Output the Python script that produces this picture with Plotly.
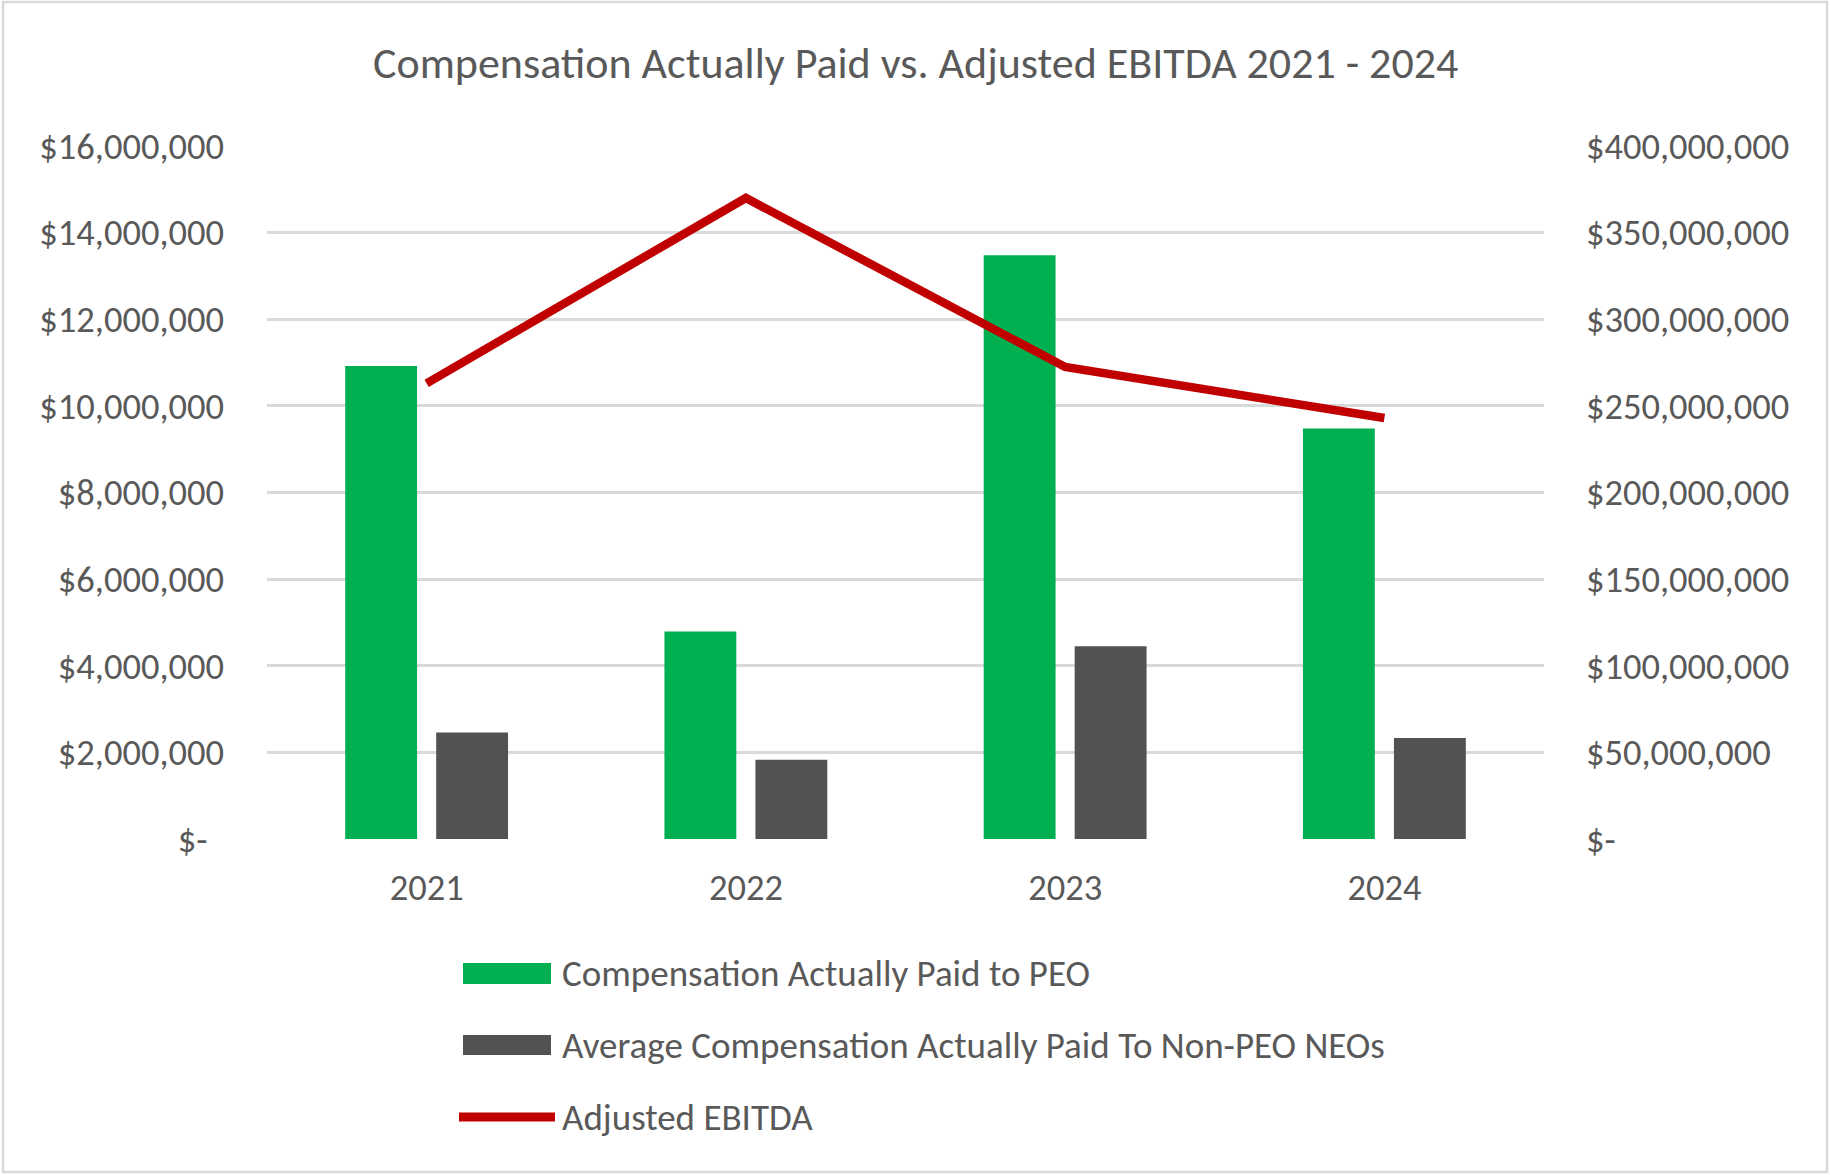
import plotly.graph_objects as go

# ---- data ----
years = ["2021", "2022", "2023", "2024"]
cap_peo = [10.92e6, 4.79e6, 13.48e6, 9.48e6]
cap_non_peo_avg = [2.46e6, 1.83e6, 4.45e6, 2.33e6]
adjusted_ebitda = [263e6, 370e6, 272.5e6, 243e6]

left_tick_vals = [0, 2e6, 4e6, 6e6, 8e6, 10e6, 12e6, 14e6, 16e6]
left_tick_text = ["$-\u00a0\u00a0", "$2,000,000", "$4,000,000", "$6,000,000", "$8,000,000",
                  "$10,000,000", "$12,000,000", "$14,000,000", "$16,000,000"]
right_tick_vals = [0, 50e6, 100e6, 150e6, 200e6, 250e6, 300e6, 350e6, 400e6]
right_tick_text = ["$-", "$50,000,000", "$100,000,000", "$150,000,000", "$200,000,000",
                   "$250,000,000", "$300,000,000", "$350,000,000", "$400,000,000"]

title_text = "Compensation Actually Paid vs. Adjusted EBITDA 2021 - 2024"
legend_names = ["Compensation Actually Paid to PEO",
                "Average Compensation Actually Paid To Non-PEO NEOs",
                "Adjusted EBITDA"]

# ---- style ----
W, H = 1830, 1175
FONT = "Calibri, Carlito, 'Open Sans', sans-serif"
TXT = "#595959"
GRID = "#d9d9d9"
GREEN = "#00B050"
GRAY = "#525252"
RED = "#C00000"

def px(x):
    return x / W

def py(y):
    return 1 - y / H

fig = go.Figure()
fig.add_trace(go.Bar(x=years, y=cap_peo, name=legend_names[0], marker_color=GREEN,
                     marker_line_width=0, showlegend=False))
fig.add_trace(go.Bar(x=years, y=cap_non_peo_avg, name=legend_names[1], marker_color=GRAY,
                     marker_line_width=0, showlegend=False))
fig.add_trace(go.Scatter(x=years, y=adjusted_ebitda, name=legend_names[2], mode="lines",
                         line=dict(color=RED, width=8.5), yaxis="y2", showlegend=False))

fig.update_layout(
    width=W, height=H,
    margin=dict(l=0, r=0, t=0, b=0, pad=0, autoexpand=False),
    paper_bgcolor="white", plot_bgcolor="white",
    font=dict(family=FONT, color=TXT),
    barmode="group", bargap=0.43, bargroupgap=0.21,
    xaxis=dict(domain=[px(267), px(1544)], type="category", showgrid=False,
               showline=False, zeroline=False, ticks="",
               tickfont=dict(size=36.5, color=TXT), ticklabelstandoff=23),
    yaxis=dict(domain=[py(839), py(146)], range=[0, 16e6], tickvals=left_tick_vals,
               ticktext=left_tick_text, showgrid=True, gridcolor=GRID, gridwidth=2.5,
               zeroline=False, showline=False, ticks="",
               tickfont=dict(size=36.5, color=TXT), ticklabelstandoff=42),
    yaxis2=dict(overlaying="y", side="right", range=[0, 400e6], tickvals=right_tick_vals,
                ticktext=right_tick_text, showgrid=False, zeroline=False, showline=False,
                ticks="", tickfont=dict(size=36.5, color=TXT), ticklabelstandoff=41),
    showlegend=False,
)

# title
fig.add_annotation(text=title_text, xref="paper", yref="paper", x=0.5, y=py(63),
                   xanchor="center", yanchor="middle", showarrow=False,
                   font=dict(size=44, color=TXT, family=FONT))

# manual legend (symbols + labels)
shapes = [
    dict(type="rect", xref="paper", yref="paper", x0=px(463), x1=px(551), y0=py(984), y1=py(963),
         fillcolor=GREEN, line=dict(width=0)),
    dict(type="rect", xref="paper", yref="paper", x0=px(463), x1=px(551), y0=py(1055), y1=py(1035),
         fillcolor=GRAY, line=dict(width=0)),
    dict(type="line", xref="paper", yref="paper", x0=px(459), x1=px(555), y0=py(1117), y1=py(1117),
         line=dict(color=RED, width=9)),
    dict(type="rect", xref="paper", yref="paper", x0=px(3), x1=px(1827), y0=py(1172), y1=py(2),
         fillcolor="rgba(0,0,0,0)", line=dict(color=GRID, width=2.5)),
]
fig.update_layout(shapes=shapes)
for name, yc in zip(legend_names, [973, 1045, 1117]):
    fig.add_annotation(text=name, xref="paper", yref="paper", x=px(560), y=py(yc),
                       xanchor="left", yanchor="middle", showarrow=False,
                       font=dict(size=37, color=TXT, family=FONT))

fig.write_html("out.html", config={"displayModeBar": False},
               post_script="document.body.style.margin='0';document.body.style.overflow='hidden';")
